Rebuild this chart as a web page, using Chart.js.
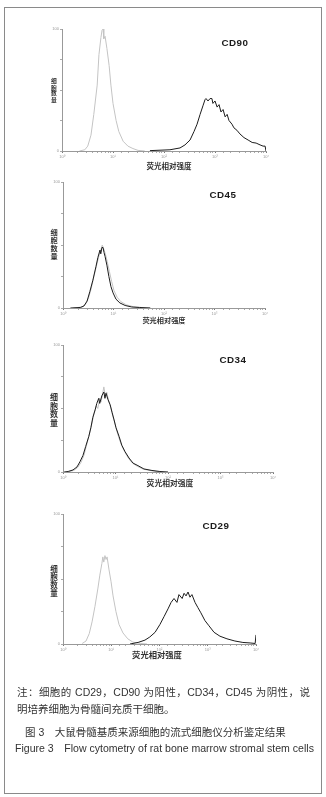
<!DOCTYPE html>
<html>
<head>
<meta charset="utf-8">
<script src="https://cdn.jsdelivr.net/npm/chart.js@4.4.1/dist/chart.umd.min.js"></script>
<style>
  body { margin: 0; background: #fff; width: 326px; height: 797px; position: relative; overflow: hidden;
         font-family: "Liberation Sans", "Noto Sans CJK SC", sans-serif; color: #222; }
  #frame { position: absolute; left: 4px; top: 7px; width: 316px; height: 785px; border: 1px solid #8a8a8a; }
  canvas { position: absolute; left: 0; }
  .t { position: absolute; transform: translate(-50%, -50%); white-space: nowrap; }
  .cd { font: bold 9.8px "Liberation Sans", sans-serif; color: #1a1a1a; letter-spacing: 0.5px; }
  .yl { position: absolute; font-family: "Noto Sans CJK SC"; font-weight: bold; font-size: 8px; line-height: 8.5px;
        color: #333; text-align: center; width: 10px; transform-origin: 50% 0; }
  .yl span { display: block; height: 8.5px; }
  .xt { font-family: "Noto Sans CJK SC"; font-weight: bold; color: #333; }
  .note { position: absolute; left: 17px; width: 293px; font-size: 10.5px; line-height: 17px; text-align: justify; color: #333; }
  .cap { position: absolute; white-space: nowrap; color: #333; }
</style>
</head>
<body>
<div id="frame"></div>
<canvas id="p1"></canvas>
<canvas id="p2"></canvas>
<canvas id="p3"></canvas>
<canvas id="p4"></canvas>

<div class="t cd" style="left:235px;top:42px">CD90</div>
<div class="t cd" style="left:223px;top:194px">CD45</div>
<div class="t cd" style="left:233px;top:359px">CD34</div>
<div class="t cd" style="left:216px;top:525px">CD29</div>

<div class="yl" style="left:49px;top:78px;transform:scale(0.72)"><span>细</span><span>胞</span><span>数</span><span>量</span></div>
<div class="yl" style="left:49px;top:229px;transform:scale(0.9)"><span>细</span><span>胞</span><span>数</span><span>量</span></div>
<div class="yl" style="left:49px;top:393px"><span>细</span><span>胞</span><span>数</span><span>量</span></div>
<div class="yl" style="left:49px;top:565px;transform:scale(0.94)"><span>细</span><span>胞</span><span>数</span><span>量</span></div>

<div class="t xt" style="left:169px;top:165px;font-size:7.5px">荧光相对强度</div>
<div class="t xt" style="left:164px;top:320px;font-size:7.2px">荧光相对强度</div>
<div class="t xt" style="left:170px;top:482px;font-size:7.8px">荧光相对强度</div>
<div class="t xt" style="left:157px;top:654px;font-size:8.3px">荧光相对强度</div>

<div class="note" style="top:684px">注：细胞的 CD29，CD90 为阳性，CD34，CD45 为阴性，说明培养细胞为骨髓间充质干细胞。</div>
<div class="cap" style="left:25px;top:724px;font-size:10.5px">图 3　大鼠骨髓基质来源细胞的流式细胞仪分析鉴定结果</div>
<div class="cap" style="left:15px;top:740px;font-size:10.55px">Figure 3　Flow cytometry of rat bone marrow stromal stem cells</div>

<script>
// x axis: fluorescence intensity (log), y axis: cell count (relative, 0-100)
const decades = [1, 10, 100, 1000, 10000];
const decadeLabels = ['10⁰', '10¹', '10²', '10³', '10⁴'];

// CD90
const cd90CtrlX = [2.2, 2.8, 3.2, 3.7, 4.2, 4.9, 5.3, 5.8, 6.1, 6.4, 6.6, 7.0, 7.6, 8.4, 9.1, 10, 11.5, 13, 15.8, 19.6, 24.6, 31, 42];
const cd90CtrlY = [0, 1, 4, 13, 30, 54, 79, 93, 99, 100, 92, 94, 84, 70, 54, 39, 25, 16, 8, 4, 2, 0.5, 0];
const cd90X = [53, 131, 206, 258, 324, 388, 445, 510, 580, 636, 666, 730, 800, 870, 910, 1000, 1100, 1200, 1310, 1440, 1580, 1730, 1880, 2150, 2350, 2690, 3080, 3700, 4460, 5350, 6400, 7650, 8750, 9600, 10000];
const cd90Y = [0.3, 1, 2.5, 5, 9, 16, 22, 30, 37, 42, 43, 41, 43, 43, 39, 41, 36, 38, 32, 34, 28, 30, 25, 22, 19, 17, 14, 11, 9, 7, 6.5, 5, 4, 4, 0];

// CD45
const cd45CtrlX = [1.6, 2.4, 2.8, 3.2, 3.6, 4.1, 4.7, 5.2, 5.7, 6.0, 6.4, 6.9, 7.5, 8.3, 9.2, 10.2, 11.8, 14, 18, 25, 36, 55];
const cd45CtrlY = [0, 0.8, 3, 8, 15, 25, 35, 42, 47, 50, 47, 43, 37, 29, 21, 14, 8.5, 5, 2.5, 1, 0.4, 0];
const cd45X = [1.4, 2.2, 2.6, 3.0, 3.4, 3.9, 4.5, 4.9, 5.4, 5.6, 5.9, 6.2, 6.5, 6.8, 7.4, 8.1, 8.9, 9.8, 11.2, 13.4, 17, 23, 33, 53];
const cd45Y = [0, 0.4, 1.6, 5.5, 13, 22, 33, 40, 46, 43, 48, 48, 44, 41, 34, 25, 17, 12, 7, 4, 2, 0.8, 0.4, 0];

// CD34
const cd34CtrlX = [1.3, 1.6, 1.9, 2.2, 2.5, 2.8, 3.2, 3.5, 3.9, 4.3, 4.6, 5.0, 5.3, 5.7, 6.0, 6.4, 6.8, 7.4, 8.1, 8.9, 9.8, 11, 12.5, 14.5, 17.5, 21, 26, 34, 48, 70];
const cd34CtrlY = [0.3, 1.2, 3.5, 7.5, 13, 21, 30, 37, 46, 52, 50, 58, 55, 62, 67, 60, 63, 56, 51, 44, 38, 30, 23, 17, 11, 7, 4.5, 2.2, 1, 0];
const cd34X = [1.05, 1.25, 1.55, 1.85, 2.1, 2.4, 2.7, 3.1, 3.4, 3.7, 4.1, 4.4, 4.8, 5.0, 5.5, 6.0, 6.3, 6.6, 7.2, 7.9, 8.6, 9.4, 10.2, 11.7, 13.2, 15.2, 18.1, 21.6, 26.8, 34.8, 49.5, 70, 100];
const cd34Y = [0, 0.4, 1.6, 4, 8, 13, 20, 28, 35, 43, 49, 54, 58, 54, 60, 63, 58, 62, 57, 53, 47, 41, 35, 28, 21, 16, 11, 7, 5, 2.4, 1.2, 0.4, 0];

// CD29
const cd29CtrlX = [2.5, 3.0, 3.5, 4.0, 4.6, 5.3, 5.8, 6.4, 6.7, 7.0, 7.4, 7.8, 8.2, 9.0, 9.9, 10.9, 12.5, 14.5, 17.5, 22, 28, 40, 55];
const cd29CtrlY = [0.4, 2.3, 8, 17, 29, 43, 53, 62, 67, 63, 68, 65, 67, 57, 48, 37, 25, 15, 8.5, 4, 1.5, 0.4, 0];
const cd29X = [24.5, 36, 50, 63, 81, 102, 124, 150, 174, 200, 230, 253, 295, 323, 355, 390, 428, 470, 545, 625, 720, 875, 1060, 1350, 1790, 2500, 3650, 5350, 7550, 9600, 10000];
const cd29Y = [0, 1.2, 3, 5.4, 9, 15, 21, 27, 32, 35, 32, 38, 35, 39, 37, 40, 36, 38, 32, 28, 24, 18, 14, 9, 6, 4, 2.3, 1.2, 0.8, 0.4, 7];

const BLACK = '#1c1c1c';
const GRAY = '#c4c4c4';

function series(xs, ys, color) {
  return {
    data: xs.map((v, i) => ({ x: v, y: ys[i] })),
    borderColor: color,
    borderWidth: 1,
    pointRadius: 0,
    tension: 0,
    fill: false
  };
}

// g: pixel box of the plot area on the page
function makePanel(id, g, sets) {
  const cv = document.getElementById(id);
  const top = g.top - 10;
  const h = g.base - g.top + 22;
  cv.width = 326; cv.height = h;
  cv.style.width = '326px'; cv.style.height = h + 'px';
  cv.style.top = top + 'px';

  new Chart(cv, {
    type: 'line',
    data: { datasets: sets },
    options: {
      responsive: false,
      animation: false,
      events: [],
      layout: { padding: { left: g.x0 - 12, right: 326 - g.x1, top: 10, bottom: 4 } },
      plugins: { legend: { display: false }, tooltip: { enabled: false } },
      scales: {
        x: {
          type: 'logarithmic', min: 1, max: 10000,
          afterFit: s => { s.height = 8; },
          border: { color: '#999', width: 1 },
          grid: { drawOnChartArea: false, tickLength: 2, color: c => c.tick && c.tick.major ? '#777' : '#aaa' },
          ticks: {
            autoSkip: false, maxRotation: 0, padding: 1, color: '#999',
            font: { size: 4 }, major: { enabled: true },
            callback: v => { const i = decades.indexOf(v); return i >= 0 ? decadeLabels[i] : ''; }
          }
        },
        y: {
          min: 0, max: 100,
          afterFit: s => { s.width = 12; },
          border: { color: '#999', width: 1 },
          grid: { drawOnChartArea: false, tickLength: 2, color: '#aaa' },
          ticks: {
            stepSize: 25, padding: 1, color: '#999', font: { size: 4 },
            callback: v => v === 0 ? '0' : (v === 100 ? '100' : '')
          }
        }
      }
    }
  });
}

makePanel('p1', { x0: 62, x1: 266, top: 29, base: 151 }, [
  series(cd90X, cd90Y, BLACK), series(cd90CtrlX, cd90CtrlY, GRAY)
]);
makePanel('p2', { x0: 63, x1: 265, top: 182, base: 308 }, [
  series(cd45X, cd45Y, BLACK), series(cd45CtrlX, cd45CtrlY, GRAY)
]);
makePanel('p3', { x0: 63, x1: 273, top: 345, base: 472 }, [
  series(cd34X, cd34Y, BLACK), series(cd34CtrlX, cd34CtrlY, GRAY)
]);
makePanel('p4', { x0: 63, x1: 256, top: 514, base: 644 }, [
  series(cd29X, cd29Y, BLACK), series(cd29CtrlX, cd29CtrlY, GRAY)
]);
</script>
</body>
</html>
